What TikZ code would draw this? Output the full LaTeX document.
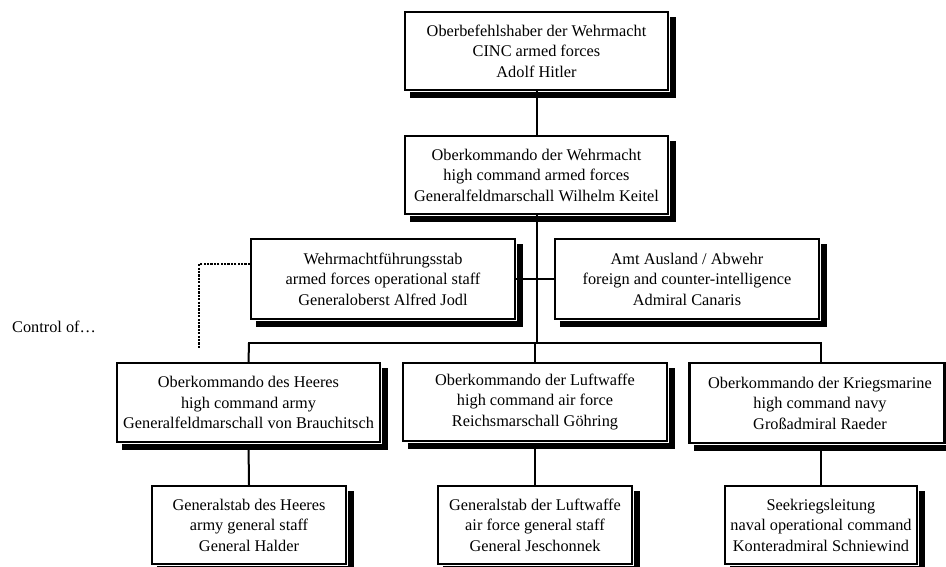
\documentclass[tikz,border=0pt]{standalone}
\usepackage{fontspec}
\setmainfont{Liberation Serif}
\usetikzlibrary{calc}
\begin{document}
\begin{tikzpicture}[x=1pt,y=-1pt,
  orgbox/.style={draw=black, line width=2.2pt, fill=white, align=center,
    inner sep=0pt, font=\fontsize{16.3}{20.5}\selectfont},
  shadowline/.style={draw=black, line width=6pt, line join=miter},
  conn/.style={line width=2pt},
  ctrl/.style={line width=1.8pt, dash pattern=on 2.2pt off 1.2pt}]
\useasboundingbox (0,0) rectangle (946,566);
\node[orgbox, minimum width=263pt, minimum height=78pt] (hitler) at (536.5,51)
  {Oberbefehlshaber der Wehrmacht\\CINC armed forces\\Adolf Hitler};
\node[orgbox, minimum width=263pt, minimum height=78pt] (okw) at (536.5,175)
  {Oberkommando der Wehrmacht\\high command armed forces\\Generalfeldmarschall Wilhelm Keitel};
\node[orgbox, minimum width=264pt, minimum height=80pt] (jodl) at (383,279)
  {Wehrmachtführungsstab\\armed forces operational staff\\Generaloberst Alfred Jodl};
\node[orgbox, minimum width=264pt, minimum height=80pt] (canaris) at (687,279)
  {Amt Ausland / Abwehr\\foreign and counter-intelligence\\Admiral Canaris};
\node[orgbox, minimum width=263pt, minimum height=79pt] (heer) at (248.5,402.5)
  {Oberkommando des Heeres\\high command army\\Generalfeldmarschall von Brauchitsch};
\node[orgbox, minimum width=264pt, minimum height=78pt] (luft) at (535,402)
  {Oberkommando der Luftwaffe\\high command air force\\Reichsmarschall Göhring};
\node[orgbox, minimum width=255pt, minimum height=80pt] (kriegs) at (817,403)
  {\hspace*{6pt}Oberkommando der Kriegsmarine\\\hspace*{6pt}high command navy\\\hspace*{6pt}Großadmiral Raeder};
\node[orgbox, minimum width=194pt, minimum height=78pt] (halder) at (249,525)
  {Generalstab des Heeres\\army general staff\\General Halder};
\node[orgbox, minimum width=194pt, minimum height=78pt] (jesch) at (535,525)
  {Generalstab der Luftwaffe\\air force general staff\\General Jeschonnek};
\node[orgbox, minimum width=192pt, minimum height=78pt] (schnie) at (821,525)
  {Seekriegsleitung\\naval operational command\\Konteradmiral Schniewind};
\node[anchor=west, inner sep=0pt, font=\fontsize{16.3}{20.5}\selectfont] (control) at (12,327) {Control of…};
% shadows
\foreach \nd in {hitler,okw,jodl,canaris,heer,luft,kriegs,halder,jesch,schnie}{
  \draw[shadowline] ($(\nd.south west)+(6,4)$) -- ($(\nd.south east)+(4,4)$) -- ($(\nd.north east)+(4,6)$);
}
% connectors
\coordinate (barL) at (249,343);
\coordinate (barM) at (536.5,343);
\coordinate (barR) at (821,343);
\coordinate (ctrlend) at (199,348);
\draw[conn] (hitler.south) -- (okw.north);
\draw[conn] (okw.south) -- (barM);
\draw[conn] (jodl.east) -- (canaris.west);
\draw[conn] ([xshift=-1pt]barL) -- ([xshift=1pt]barR);
\draw[conn] (barL) -- (heer.north);
\draw[conn] (luft.north |- barM) -- (luft.north);
\draw[conn] (barR) -- (barR |- kriegs.north);
\draw[conn] ([yshift=-1pt]heer.south) -- (halder.north);
\draw[conn] ([yshift=-1pt]luft.south) -- (jesch.north);
\draw[conn] ([yshift=-1pt]barR |- kriegs.south) -- (schnie.north);
\draw[ctrl] ([yshift=15pt]jodl.west) -| (ctrlend);
\end{tikzpicture}
\end{document}
